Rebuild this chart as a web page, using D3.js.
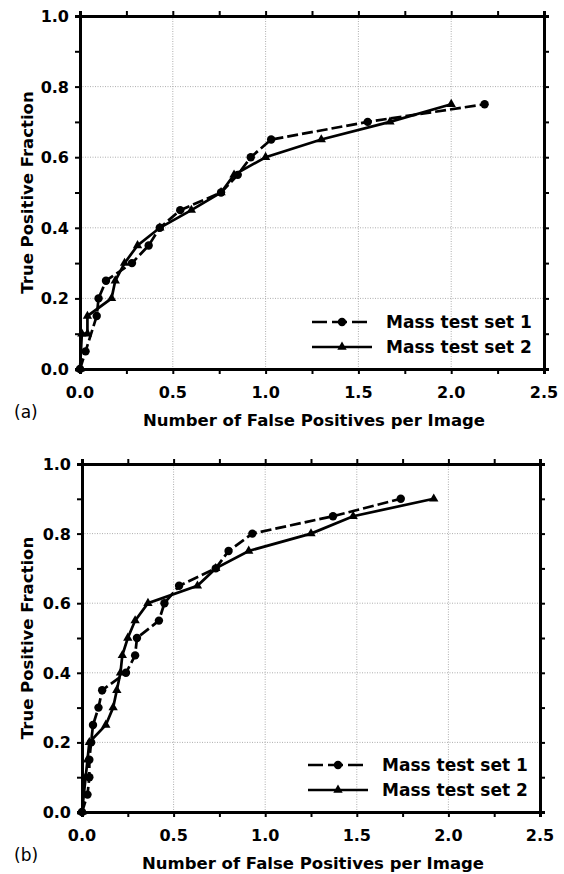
<!DOCTYPE html>
<html>
<head>
<meta charset="utf-8">
<script src="https://cdn.jsdelivr.net/npm/d3@7"></script>
<style>
  body { margin: 0; background: #fff; }
  text { font-family: "DejaVu Sans", "Liberation Sans", Arial, sans-serif; }
</style>
</head>
<body>
<svg id="mainSvg"></svg>
<script>
var WIDTH = 564;
var HEIGHT = 874;

var SERIES_NAMES = ["Mass test set 1", "Mass test set 2"];
var X_TICKS = [0, 0.5, 1.0, 1.5, 2.0, 2.5];
var Y_TICKS = [0, 0.2, 0.4, 0.6, 0.8, 1.0];
var X_TITLE = "Number of False Positives per Image";
var Y_TITLE = "True Positive Fraction";

// panel (a)
var A_SET1 = [[0,0],[0.03,0.05],[0.09,0.15],[0.10,0.20],[0.14,0.25],[0.28,0.30],[0.37,0.35],
  [0.43,0.40],[0.54,0.45],[0.76,0.50],[0.85,0.55],[0.92,0.60],[1.03,0.65],[1.55,0.70],[2.18,0.75]];
var A_SET2 = [[0,0],[0.01,0.10],[0.04,0.10],[0.04,0.15],[0.17,0.20],[0.19,0.25],[0.24,0.30],
  [0.31,0.35],[0.43,0.40],[0.60,0.45],[0.76,0.50],[0.83,0.55],[1.00,0.60],[1.30,0.65],[1.67,0.70],[2.00,0.75]];

// panel (b)
var B_SET1 = [[0,0],[0.03,0.05],[0.04,0.10],[0.04,0.15],[0.05,0.20],[0.06,0.25],[0.09,0.30],[0.11,0.35],
  [0.24,0.40],[0.29,0.45],[0.30,0.50],[0.42,0.55],[0.45,0.60],[0.53,0.65],[0.73,0.70],[0.80,0.75],
  [0.93,0.80],[1.37,0.85],[1.74,0.90]];
var B_SET2 = [[0,0],[0.02,0.10],[0.03,0.15],[0.04,0.20],[0.13,0.25],[0.17,0.30],[0.19,0.35],[0.21,0.40],
  [0.22,0.45],[0.25,0.50],[0.29,0.55],[0.36,0.60],[0.63,0.65],[0.73,0.70],[0.91,0.75],[1.25,0.80],
  [1.48,0.85],[1.92,0.90]];

var PANELS = [
  { tag: "(a)", sets: [A_SET1, A_SET2], left: 80, right: 544, top: 16, bottom: 369 },
  { tag: "(b)", sets: [B_SET1, B_SET2], left: 82, right: 540, top: 464, bottom: 812 }
];

var svg = d3.select("#mainSvg").attr("width", WIDTH).attr("height", HEIGHT);

function drawMarker(g, kind, cx, cy) {
  if (kind === 0) {
    g.append("circle").attr("cx", cx).attr("cy", cy).attr("r", 4.2).attr("fill", "#000");
  } else {
    g.append("path")
      .attr("d", d3.symbol().type(d3.symbolTriangle).size(38))
      .attr("transform", "translate(" + cx + "," + cy + ")")
      .attr("fill", "#000");
  }
}

function drawPanel(p) {
  var x = d3.scaleLinear().domain([0, 2.5]).range([p.left, p.right]);
  var y = d3.scaleLinear().domain([0, 1]).range([p.bottom, p.top]);
  var g = svg.append("g");

  // dotted grid at major ticks
  g.selectAll(".gx").data(X_TICKS.slice(1, -1)).enter().append("line")
    .attr("x1", x).attr("x2", x).attr("y1", p.top).attr("y2", p.bottom)
    .attr("stroke", "#999").attr("stroke-width", 0.8).attr("stroke-dasharray", "1,1.5");
  g.selectAll(".gy").data(Y_TICKS.slice(1, -1)).enter().append("line")
    .attr("y1", y).attr("y2", y).attr("x1", p.left).attr("x2", p.right)
    .attr("stroke", "#999").attr("stroke-width", 0.8).attr("stroke-dasharray", "1,1.5");

  // axes with outward ticks, minor every 0.25 / 0.1
  var xt = d3.range(0, 2.51, 0.25), yt = d3.range(0, 1.01, 0.1);
  var bottomAxis = d3.axisBottom(x).tickValues(xt).tickSize(5).tickFormat("");
  var topAxis = d3.axisTop(x).tickValues(xt).tickSize(5).tickFormat("");
  var leftAxis = d3.axisLeft(y).tickValues(yt).tickSize(5).tickFormat("");
  var rightAxis = d3.axisRight(y).tickValues(yt).tickSize(5).tickFormat("");
  [[bottomAxis, "0," + p.bottom], [topAxis, "0," + p.top],
   [leftAxis, p.left + ",0"], [rightAxis, p.right + ",0"]].forEach(function (a) {
    var ag = g.append("g").attr("transform", "translate(" + a[1] + ")").call(a[0]);
    ag.select(".domain").attr("stroke-width", 3).attr("stroke", "#000");
    ag.selectAll(".tick line").attr("stroke-width", 2).attr("stroke", "#000");
  });

  // tick labels
  g.selectAll(".xl").data(X_TICKS).enter().append("text")
    .attr("x", x).attr("y", p.bottom + 29)
    .attr("text-anchor", "middle").attr("font-size", 16).attr("font-weight", "bold")
    .text(function (d) { return d.toFixed(1); });
  g.selectAll(".yl").data(Y_TICKS).enter().append("text")
    .attr("x", p.left - 11).attr("y", function (d) { return y(d) + 6; })
    .attr("text-anchor", "end").attr("font-size", 16).attr("font-weight", "bold")
    .text(function (d) { return d.toFixed(1); });

  // titles
  g.append("text").attr("x", (p.left + p.right) / 2 + 2).attr("y", p.bottom + 57)
    .attr("text-anchor", "middle").attr("font-size", 16.5).attr("font-weight", "bold").text(X_TITLE);
  g.append("text")
    .attr("transform", "translate(" + 33 + "," + (p.top + p.bottom) / 2 + ") rotate(-90)")
    .attr("text-anchor", "middle").attr("font-size", 16.5).attr("font-weight", "bold").text(Y_TITLE);
  g.append("text").attr("x", 14).attr("y", p.bottom + 49)
    .attr("font-family", "Liberation Sans, Arial, sans-serif")
    .attr("font-size", 17).text(p.tag);

  // series
  var line = d3.line().x(function (d) { return x(d[0]); }).y(function (d) { return y(d[1]); });
  p.sets.forEach(function (data, i) {
    g.append("path").datum(data).attr("d", line)
      .attr("fill", "none").attr("stroke", "#000").attr("stroke-width", 2.7)
      .attr("stroke-dasharray", i === 0 ? "11,4" : null);
    data.forEach(function (d) { drawMarker(g, i, x(d[0]), y(d[1])); });
  });

  // legend
  SERIES_NAMES.forEach(function (name, i) {
    var ly = p.bottom - 47 + i * 25;
    g.append("line").attr("x1", p.right - 232).attr("x2", p.right - 172)
      .attr("y1", ly).attr("y2", ly).attr("stroke", "#000").attr("stroke-width", 2.7)
      .attr("stroke-dasharray", i === 0 ? "15,5" : null);
    drawMarker(g, i, p.right - 202, ly);
    g.append("text").attr("x", p.right - 158).attr("y", ly + 6)
      .attr("font-size", 17).attr("font-weight", "bold").text(name);
  });
}

PANELS.forEach(drawPanel);
</script>
</body>
</html>
